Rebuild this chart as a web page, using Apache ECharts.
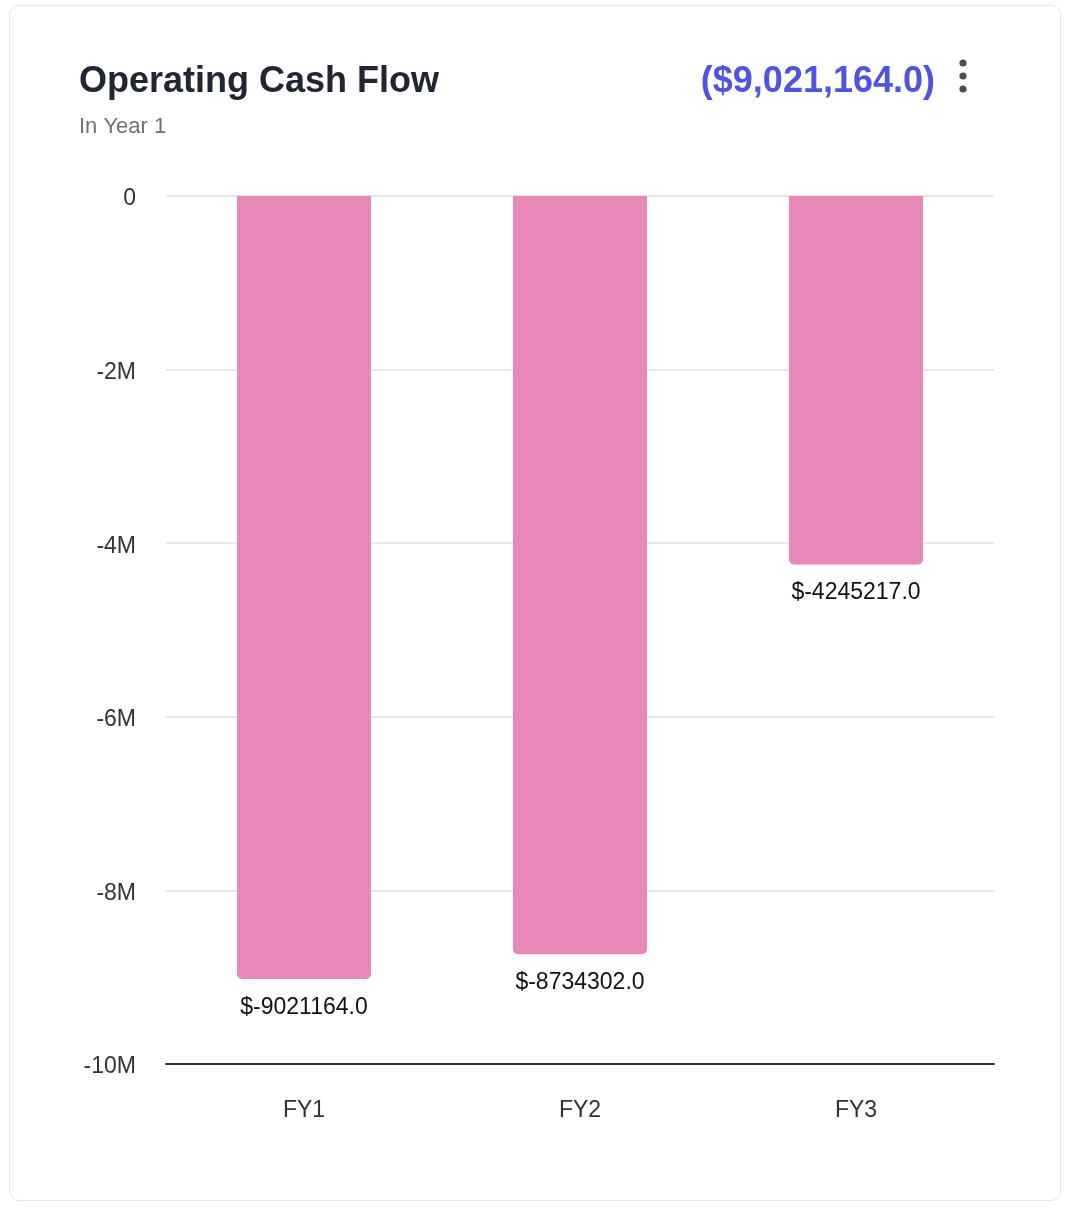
<!DOCTYPE html>
<html>
<head>
<meta charset="utf-8">
<script src="https://cdn.jsdelivr.net/npm/echarts@6/dist/echarts.min.js"></script>
<style>
  html, body { margin: 0; padding: 0; background: #fff; }
  #card {
    position: absolute; left: 9px; top: 5px; width: 1052px; height: 1196px;
    border: 1px solid #e6e6e6; border-radius: 10px; box-sizing: border-box;
  }
  #main { position: absolute; left: 0; top: 0; width: 1076px; height: 1216px; }
</style>
</head>
<body>
<div id="card"></div>
<div id="main"></div>
<script>
  var categories = ['FY1', 'FY2', 'FY3'];
  var cashFlow = [-9021164, -8734302, -4245217];
  var headline = '($9,021,164.0)';

  var font = '"Liberation Sans", Arial, Helvetica, sans-serif';
  var myChart = echarts.init(document.getElementById('main'));

  myChart.setOption({
    animation: false,
    textStyle: { fontFamily: font },
    grid: { left: 166, right: 82, top: 196, bottom: 152 },
    graphic: [
      { type: 'text', left: 79, top: 64,
        style: { text: 'Operating Cash Flow', fontFamily: font, fontSize: 36, fontWeight: 'bold', fill: '#222631' } },
      { type: 'text', left: 79, top: 116,
        style: { text: 'In Year 1', fontFamily: font, fontSize: 22, fill: '#6b7079' } },
      { type: 'text', right: 141, top: 64,
        style: { text: headline, fontFamily: font, fontSize: 36, fontWeight: 'bold', fill: '#5052e2' } },
      { type: 'circle', shape: { cx: 963, cy: 63, r: 3.6 }, style: { fill: '#4d4d4d' } },
      { type: 'circle', shape: { cx: 963, cy: 76, r: 3.6 }, style: { fill: '#4d4d4d' } },
      { type: 'circle', shape: { cx: 963, cy: 89, r: 3.6 }, style: { fill: '#4d4d4d' } }
    ],
    xAxis: {
      type: 'category',
      data: categories,
      axisLine: { onZero: false, lineStyle: { color: '#333', width: 2 } },
      axisTick: { show: false },
      axisLabel: { color: '#333', fontSize: 23, margin: 35 }
    },
    yAxis: {
      type: 'value',
      min: -10000000,
      max: 0,
      interval: 2000000,
      axisLine: { show: false },
      axisTick: { show: false },
      splitLine: { lineStyle: { color: '#e6e6e6', width: 2 } },
      axisLabel: {
        margin: 30,
        formatter: function (v) { return '{t|' + (v === 0 ? '0' : (v / 1e6) + 'M') + '}'; },
        rich: { t: { color: '#333', fontSize: 23, fontFamily: font, padding: [6, 0, 0, 0] } }
      }
    },
    series: [{
      type: 'bar',
      data: cashFlow,
      barWidth: 134,
      itemStyle: { color: '#e788b9', borderRadius: [0, 0, 5, 5] },
      label: {
        show: true,
        position: 'bottom',
        distance: 17,
        color: '#111',
        fontSize: 23,
        formatter: function (p) { return '$' + p.value.toFixed(1); }
      }
    }]
  });
</script>
</body>
</html>
